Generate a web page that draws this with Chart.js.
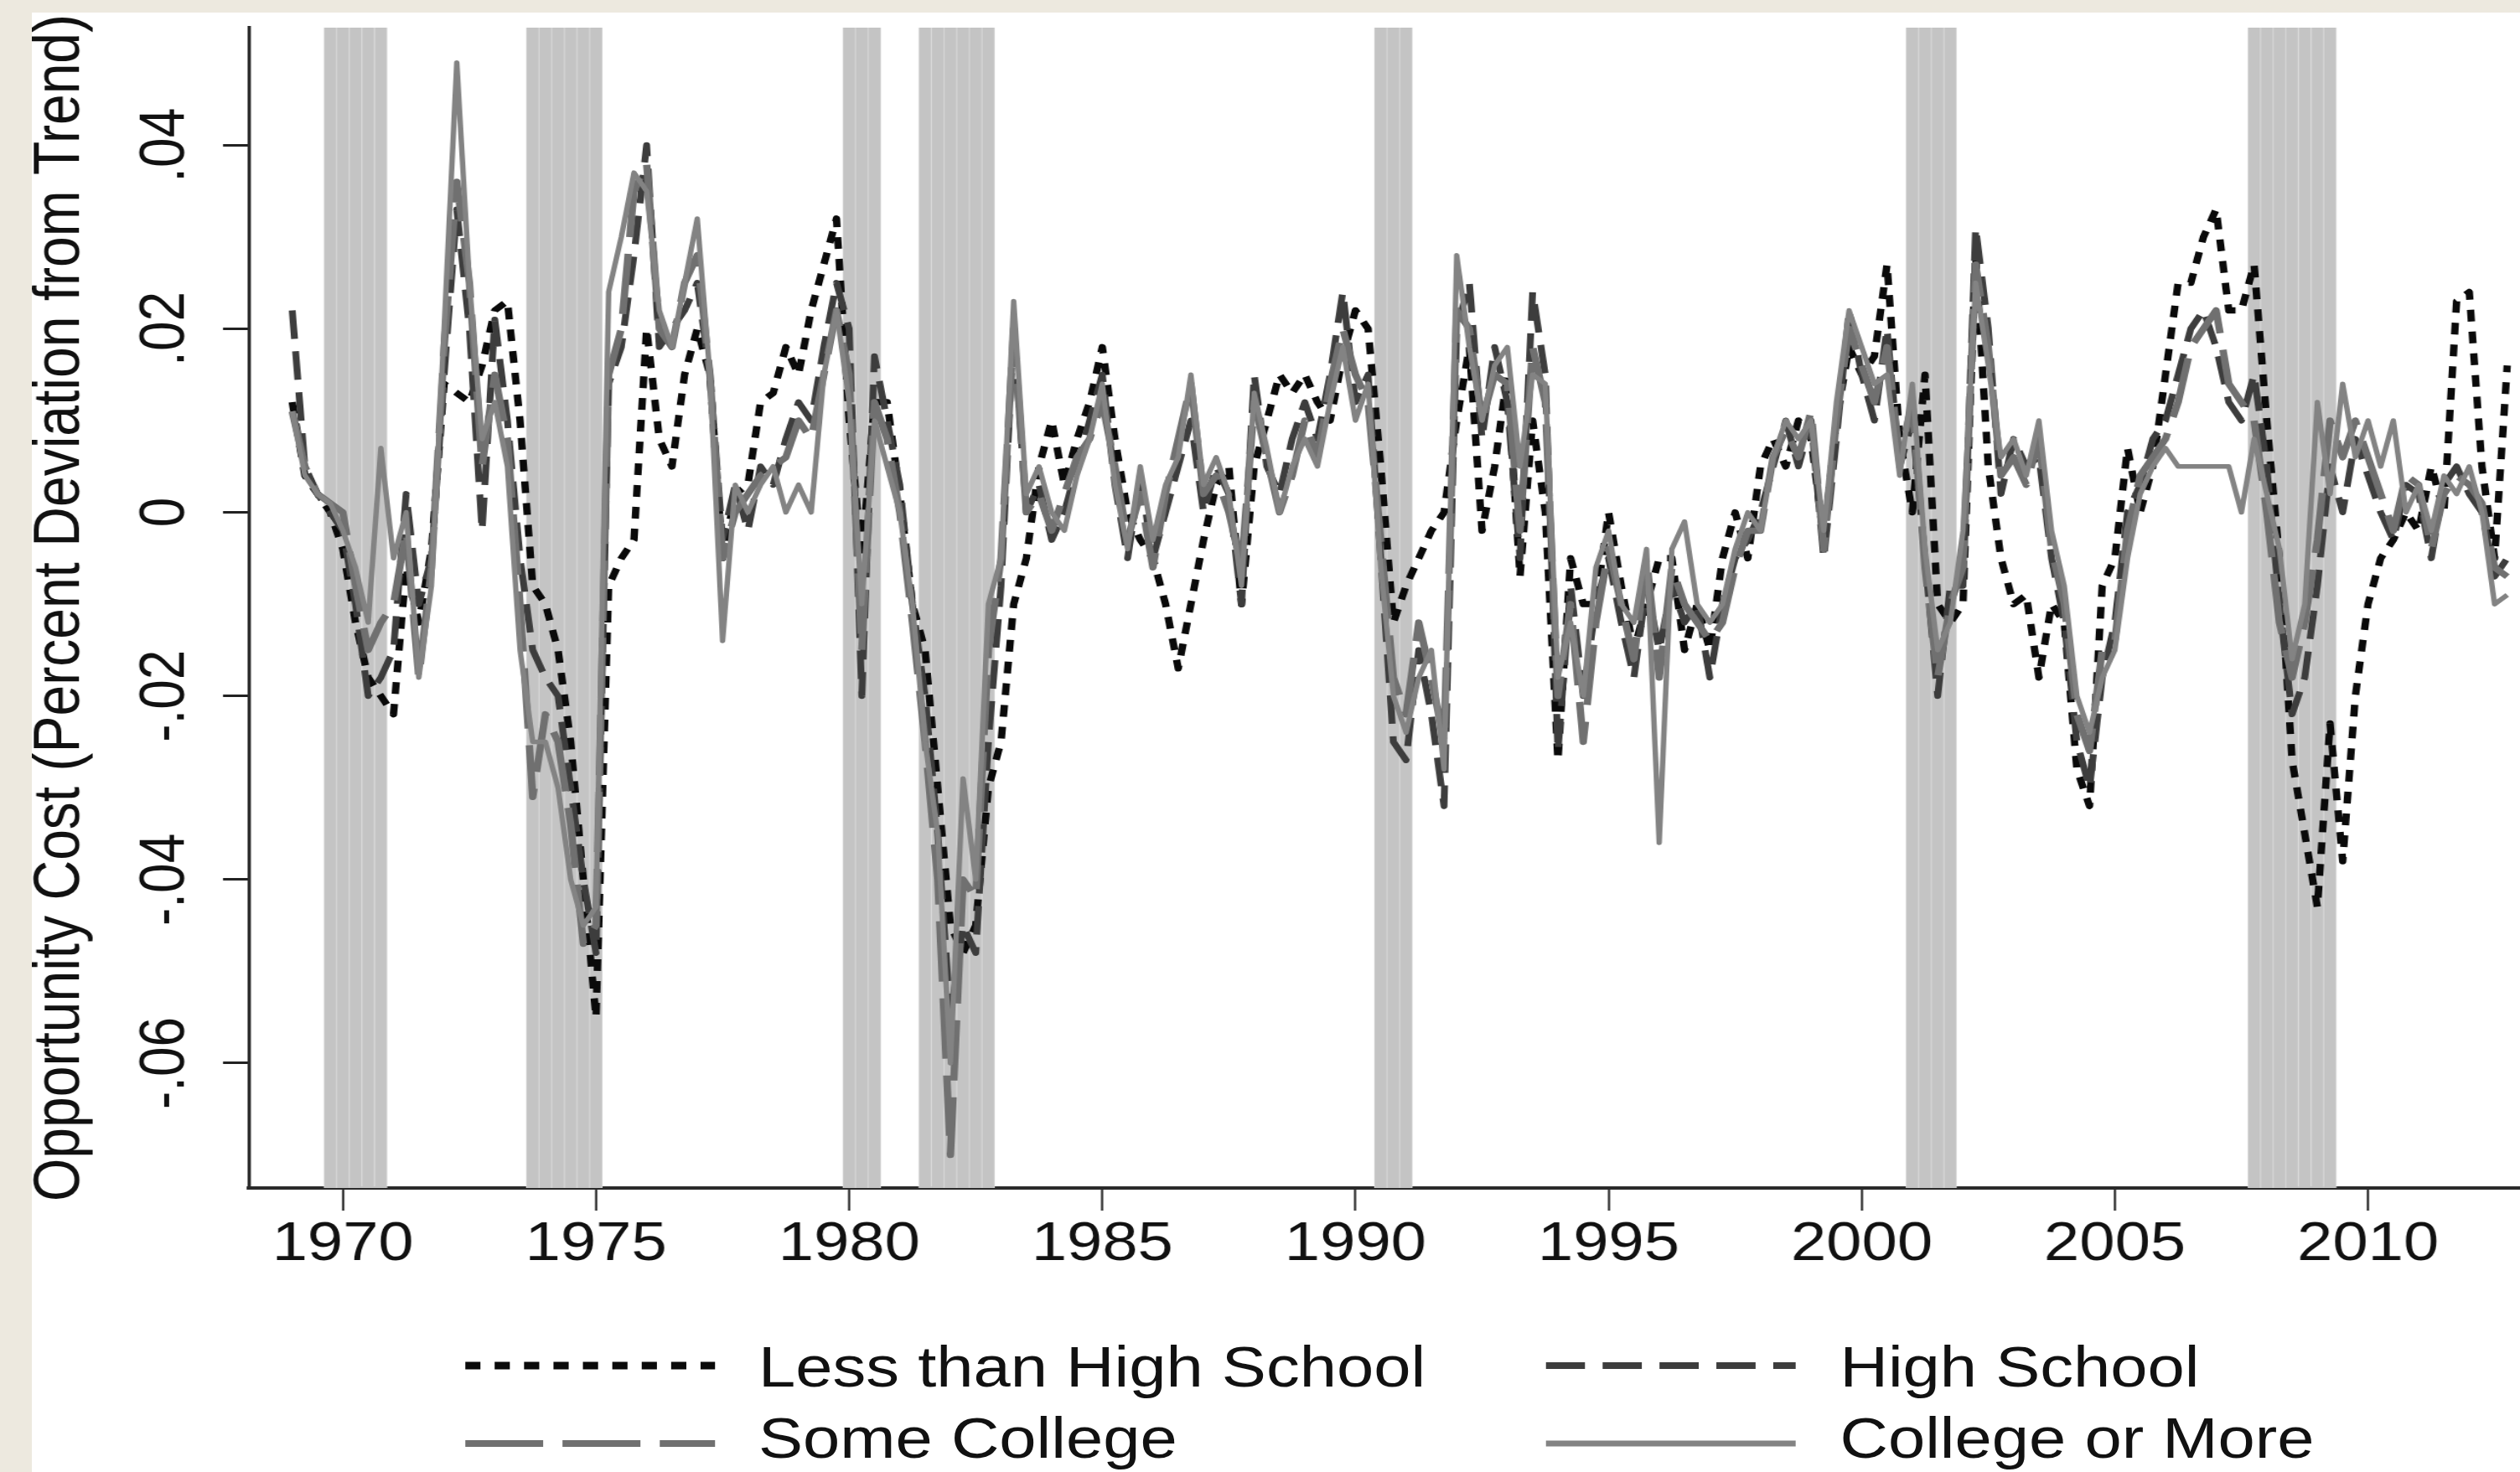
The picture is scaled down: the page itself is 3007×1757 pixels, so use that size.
<!DOCTYPE html>
<html>
<head>
<meta charset="utf-8">
<script src="https://cdn.jsdelivr.net/npm/chart.js@4.4.1/dist/chart.umd.min.js"></script>
<style>
    html, body { margin: 0; padding: 0; }
    body {
        width: 3007px;
        height: 1757px;
        background: #ede9df;
        position: relative;
        overflow: hidden;
        font-family: 'Liberation Sans', Arial, sans-serif;
        color: #111;
    }
    #panel { position: absolute; left: 38px; top: 15px; width: 2969px; height: 1742px; background: #fff; overflow: hidden; }
    /* the original figure is stretched horizontally, so the whole drawing is too */
    #stretch { position: absolute; left: 0; top: 0; width: 2538px; height: 1742px; transform: scaleX(1.17); transform-origin: 0 0; }
    #chart { position: absolute; left: 0; top: 0; }
    .legend-line { position: absolute; width: 255px; height: 20px; }
    .legend-text { position: absolute; font-size: 68px; line-height: 68px; white-space: nowrap; }
</style>
</head>
<body>
<div id="panel">
    <div id="stretch">
        <canvas id="chart" width="2538" height="1560"></canvas>
        <div id="legend"></div>
    </div>
</div>
<script>
const firstQuarter = 1969;

const lessThanHighSchool = [
    .012, .004, .002, .000,   -.004, -.012, -.018, -.020,   -.022, -.006, -.012, -.004,   .014, .013, .012, .016,
    .022, .023, .010, -.008,  -.010, -.015, -.025, -.040,   -.055, -.008, -.005, -.003,   .020, .008, .005, .015,
    .020, .015, -.005, .002,  .003, .012, .013, .018,       .015, .022, .027, .032,       .010, -.005, .012, .012,
    .002, -.010, -.015, -.030, -.045, -.048, -.045, -.030,  -.025, -.010, -.005, .005,    .010, .003, .008, .012,
    .018, .008, .000, -.003,  -.005, -.010, -.017, -.010,   -.003, .003, .005, -.010,     .005, .010, .015, .013,
    .015, .012, .010, .017,   .022, .020, .005, -.012,      -.008, -.005, -.002, .000,    .010, .018, -.002, .005,
    .015, -.007, .010, .000,  -.027, -.005, -.010, -.010,   .000, -.008, -.015, -.010,    -.005, -.005, -.015, -.010,
    -.015, -.005, .000, -.005, .005, .008, .005, .010,      .008, -.003, .010, .018,      .015, .017, .027, .008,
    .000, .015, -.010, -.012, -.010, .028, .005, -.005,     -.010, -.009, -.018, -.010,   -.012, -.028, -.032, -.008,
    -.005, .007, .000, .005,  .015, .025, .025, .030,       .033, .022, .022, .027,       .010, -.005, -.027, -.035,
    -.043, -.023, -.038, -.020, -.010, -.005, -.003, .000,  -.002, .005, .000, .023,      .024, .005, -.005, .016,
];

const highSchool = [
    .022, .005, .002, .000,   -.002, -.010, -.020, -.018,   -.015, .002, -.010, -.005,    .015, .033, .020, -.002,
    .021, .010, -.005, -.015, -.018, -.020, -.030, -.040,   -.048, .014, .018, .028,      .040, .018, .020, .022,
    .025, .015, -.003, .003,  -.002, .005, .003, .008,      .012, .010, .018, .025,       .020, -.020, .017, .010,
    .003, -.010, -.020, -.035, -.055, -.045, -.048, -.025,  -.008, .020, .000, .003,      -.003, .000, .005, .010,
    .015, .003, -.005, .004,  -.005, .000, .005, .010,      .000, .005, .002, -.010,      .015, .005, .002, .008,
    .012, .008, .015, .024,   .012, .015, -.005, -.025,     -.027, -.015, -.022, -.032,   .020, .025, .008, .018,
    .012, -.005, .024, .015,  -.026, -.008, -.020, -.010,   -.005, -.012, -.018, -.008,   -.015, -.008, -.012, -.010,
    -.018, -.010, -.005, -.003, .000, .005, .010, .005,     .010, -.005, .008, .022,      .015, .010, .020, .005,
    .010, -.005, -.020, -.008, -.008, .031, .020, .002,     .008, .005, .006, -.005,      -.012, -.025, -.030, -.018,
    -.012, .000, .003, .008,  .010, .015, .020, .022,       .018, .012, .010, .015,       .005, -.010, -.022, -.018,
    -.008, .005, .000, .008,  .004, .000, -.003, .003,      .002, -.005, .003, .005,      .002, .000, -.007, -.005,
];

const someCollege = [
    .011, .005, .002, .001,   .000, -.008, -.015, -.012,    -.010, -.002, -.018, -.006,   .018, .036, .025, .005,
    .015, .008, -.010, -.031, -.022, -.025, -.034, -.047,   -.045, .015, .020, .035,      .038, .020, .018, .025,
    .028, .015, -.005, .000,  .002, .004, .005, .006,       .010, .008, .015, .022,       .015, -.015, .012, .008,
    .000, -.012, -.025, -.040, -.070, -.040, -.042, -.015,  -.005, .020, .000, .002,      -.002, .002, .006, .008,
    .012, .005, -.003, .002,  -.006, .002, .008, .014,      .002, .004, .000, -.006,      .012, .006, .000, .004,
    .010, .006, .014, .020,   .015, .012, -.003, -.018,     -.022, -.012, -.018, -.025,   .022, .020, .010, .015,
    .014, -.002, .018, .012,  -.020, -.010, -.025, -.012,   -.004, -.010, -.016, -.005,   -.018, -.006, -.010, -.012,
    -.014, -.012, -.006, -.002, -.002, .006, .009, .006,    .011, -.004, .010, .020,      .016, .012, .018, .006,
    .012, -.006, -.018, -.010, -.006, .027, .018, .004,     .006, .003, .008, -.004,      -.010, -.022, -.026, -.015,
    -.014, -.002, .004, .006, .008, .012, .018, .020,       .022, .014, .012, .010,       .000, -.012, -.018, -.012,
    -.003, .010, .006, .010,  .006, .002, -.002, .004,      .003, -.004, .002, .004,      .003, .001, -.006, -.007,
];

const collegeOrMore = [
    .011, .004, .002, .001,   -.002, -.006, -.012, .007,    -.005, .000, -.018, -.008,    .020, .049, .025, .008,
    .012, .005, -.015, -.025, -.025, -.030, -.040, -.045,   -.043, .024, .030, .037,      .035, .022, .018, .025,
    .032, .015, -.014, .003,  .000, .003, .005, .000,       .003, .000, .015, .022,       .012, -.010, .010, .005,
    .000, -.010, -.025, -.035, -.060, -.029, -.040, -.010,  -.005, .023, .002, .005,      .000, -.002, .004, .008,
    .014, .003, -.004, .005,  -.003, .003, .006, .015,      .003, .006, .002, -.008,      .013, .007, .000, .005,
    .008, .005, .012, .018,   .010, .014, -.006, -.020,     -.024, -.018, -.015, -.028,   .028, .018, .010, .016,
    .018, .005, .015, .014,   -.018, -.012, -.020, -.006,   -.002, -.010, -.012, -.004,   -.036, -.004, -.001, -.010,
    -.012, -.010, -.004, .000, -.002, .006, .010, .008,     .010, -.002, .012, .022,      .018, .014, .015, .004,
    .014, -.004, -.015, -.012, -.002, .025, .016, .006,     .008, .004, .010, -.002,      -.008, -.020, -.024, -.018,
    -.015, -.005, .002, .005, .007, .005, .005, .005,       .005, .005, .000, .008,       .002, -.004, -.016, -.010,
    .012, .002, .014, .006,   .010, .005, .010, .000,       .003, -.002, .004, .002,      .005, .000, -.010, -.009,
];

// NBER recessions, first and last quarter of each
const recessionFrom = [1969.75, 1973.75, 1980.0, 1981.5, 1990.5, 2001.0, 2007.75];
const recessionTo = [1970.75, 1975.0, 1980.5, 1982.75, 1991.0, 2001.75, 2009.25];

const xTickValues = [1970, 1975, 1980, 1985, 1990, 1995, 2000, 2005, 2010];
const yTickValues = [-0.06, -0.04, -0.02, 0, 0.02, 0.04];
const yTickLabels = ['-.06', '-.04', '-.02', '0', '.02', '.04'];
const seriesNames = ['Less than High School', 'High School', 'Some College', 'College or More'];

const X_MIN = 1968.145;
const X_MAX = 2013.01;
const Y_MIN = -0.0736;
const Y_MAX = 0.0528;
const FONT = "'Liberation Sans', Arial, sans-serif";

const seriesStyles = [
    { color: '#0a0a0a', width: 7.5, dash: [14, 12], legendDash: '15.5 14.5', legendWidth: 9 },
    { color: '#3d3d3d', width: 7, dash: [34, 15], legendDash: '40 18', legendWidth: 8 },
    { color: '#707070', width: 7.5, dash: [72, 20], legendDash: '79.5 19.7', legendWidth: 8 },
    { color: '#838383', width: 5.5, dash: [], legendDash: '', legendWidth: 7 },
];

function toPoints(values) {
    return values.map((value, i) => ({ x: firstQuarter + i / 4, y: value }));
}

function recessionQuarters() {
    const quarters = [];
    recessionFrom.forEach((from, i) => {
        for (let q = from; q <= recessionTo[i] + 1e-9; q += 0.25) {
            quarters.push(q);
        }
    });
    return quarters;
}

function buildLegend() {
    const legend = document.getElementById('legend');
    // two columns, two rows, as in the figure
    const columns = [{ line: 442, text: 741 }, { line: 1544, text: 1844 }];
    const rows = [{ line: 1605, text: 1582 }, { line: 1698, text: 1667 }];
    seriesNames.forEach((name, i) => {
        const style = seriesStyles[i];
        const col = columns[i % 2];
        const row = rows[Math.floor(i / 2)];
        const svg = `<svg class="legend-line" style="left:${col.line}px;top:${row.line}px" viewBox="0 0 255 20">`
            + `<line x1="0" y1="10" x2="255" y2="10" stroke="${style.color}" stroke-width="${style.legendWidth}"`
            + (style.legendDash ? ` stroke-dasharray="${style.legendDash}"` : '') + '/></svg>';
        legend.insertAdjacentHTML('beforeend', svg);
        const label = document.createElement('div');
        label.className = 'legend-text';
        label.style.left = `${col.text}px`;
        label.style.top = `${row.text}px`;
        label.textContent = name;
        legend.appendChild(label);
    });
}

const lineSeries = [lessThanHighSchool, highSchool, someCollege, collegeOrMore];

const datasets = lineSeries.map((values, i) => ({
    type: 'line',
    label: seriesNames[i],
    data: toPoints(values),
    borderColor: seriesStyles[i].color,
    borderWidth: seriesStyles[i].width,
    borderDash: seriesStyles[i].dash,
    borderCapStyle: 'butt',
    borderJoinStyle: 'round',
    pointRadius: 0,
    tension: 0,
    fill: false,
    order: 4 - i,
}));

datasets.push({
    type: 'bar',
    label: 'Recession',
    data: recessionQuarters().map((q) => ({ x: q, y: [Y_MIN, Y_MAX] })),
    backgroundColor: '#c4c4c4',
    borderColor: '#d6d6d6',
    borderWidth: { left: 1, right: 1, top: 0, bottom: 0 },
    borderSkipped: false,
    barPercentage: 1,
    categoryPercentage: 1,
    order: 10,
});

new Chart(document.getElementById('chart'), {
    type: 'line',
    data: { datasets },
    options: {
        responsive: false,
        animation: false,
        events: [],
        layout: { padding: { top: 18, left: 0, right: 0, bottom: 0 } },
        plugins: {
            legend: { display: false },
            tooltip: { enabled: false },
        },
        scales: {
            x: {
                type: 'linear',
                min: X_MIN,
                max: X_MAX,
                offset: false,
                afterBuildTicks: (scale) => {
                    scale.ticks = xTickValues.map((value) => ({ value }));
                },
                afterFit: (scale) => {
                    scale.height = 157;
                    scale.paddingLeft = 0;
                    scale.paddingRight = 0;
                },
                grid: { offset: false, drawOnChartArea: false, tickLength: 27, tickWidth: 2.2, tickColor: '#222' },
                border: { display: true, color: '#2a2a2a', width: 4 },
                ticks: {
                    autoSkip: false,
                    maxRotation: 0,
                    padding: 5,
                    color: '#111',
                    font: { family: FONT, size: 65, lineHeight: 1.1 },
                    callback: (value) => String(value),
                },
            },
            y: {
                type: 'linear',
                min: Y_MIN,
                max: Y_MAX,
                afterBuildTicks: (scale) => {
                    scale.ticks = yTickValues.map((value) => ({ value }));
                },
                afterFit: (scale) => {
                    scale.width = 221.4;
                    scale.paddingTop = 0;
                    scale.paddingBottom = 0;
                },
                grid: { offset: false, drawOnChartArea: false, tickLength: 26.5, tickWidth: 3, tickColor: '#222' },
                border: { display: true, color: '#2a2a2a', width: 3.4 },
                ticks: {
                    autoSkip: false,
                    minRotation: 90,
                    maxRotation: 90,
                    crossAlign: 'center',
                    padding: 2,
                    color: '#111',
                    font: { family: FONT, size: 64 },
                    callback: (value) => yTickLabels[yTickValues.indexOf(value)],
                },
                title: {
                    display: true,
                    text: 'Opportunity Cost (Percent Deviation from Trend)',
                    color: '#111',
                    padding: 0,
                    font: { family: FONT, size: 66, lineHeight: 0.9 },
                },
            },
        },
    },
});

buildLegend();
</script>
</body>
</html>
